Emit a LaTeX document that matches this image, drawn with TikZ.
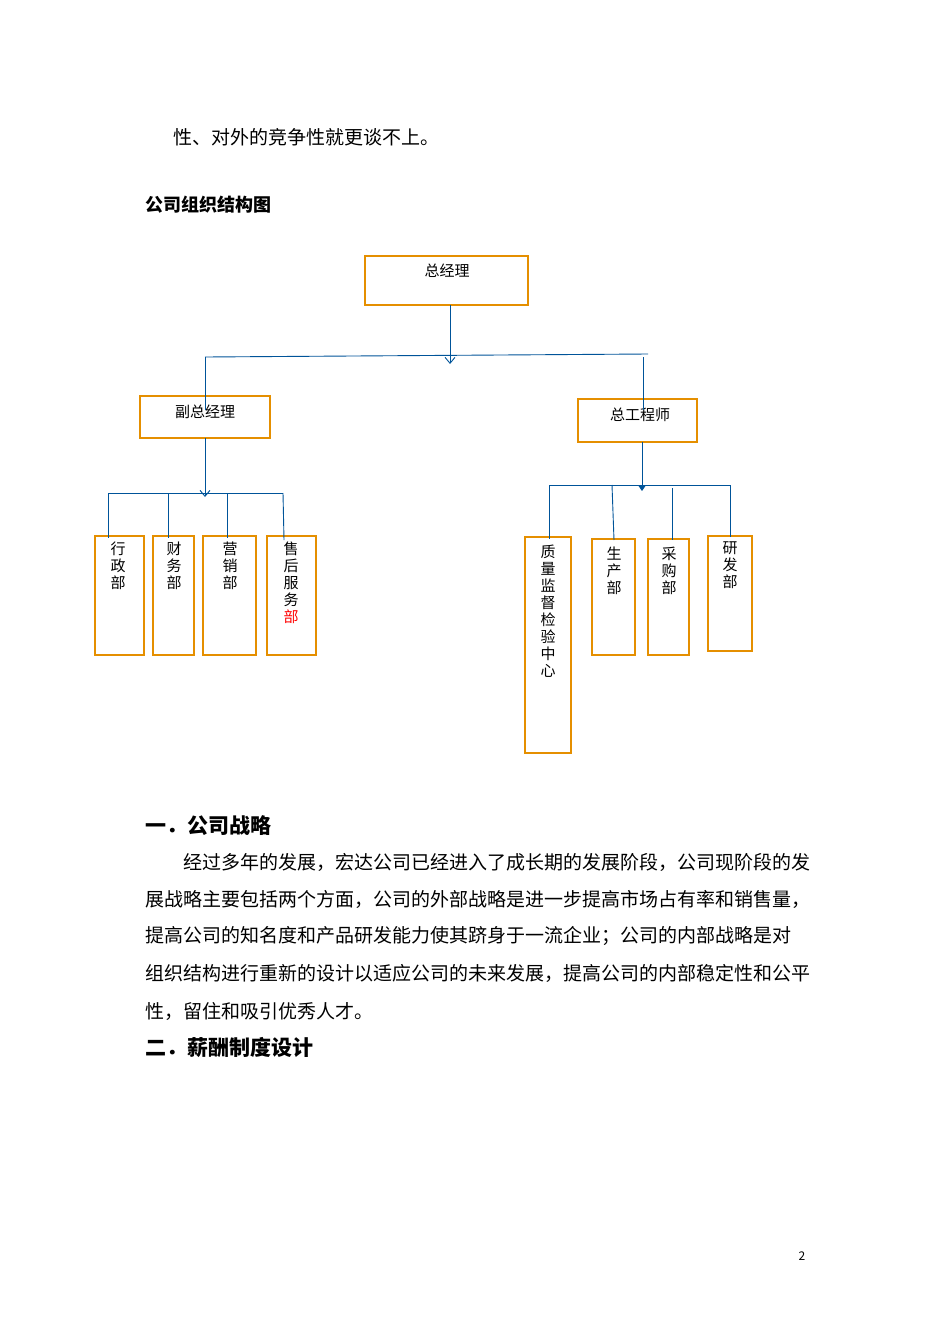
\documentclass[tikz,border=0pt]{standalone}
\usepackage{fontspec}
\setmainfont{Noto Sans CJK SC}
\usetikzlibrary{arrows.meta}
\tikzset{
  box/.style={draw=orange!75!yellow!90!black,line width=2.6pt},
  link/.style={draw=blue!45!cyan!60!black,line width=0.9pt},
  lbl/.style={font=\fontsize{15}{17}\selectfont,inner sep=0pt},
  vlbl/.style={lbl,anchor=north,align=center,font=\fontsize{15}{17}\selectfont},
  body/.style={anchor=west,inner sep=0pt,font=\fontsize{19}{21}\selectfont}
}
\def\Box#1#2#3#4#5{\draw[box] (#2,#3) rectangle (#4,#5) coordinate (#1);}
\begin{document}
\begin{tikzpicture}[x=1pt,y=-1pt]
\useasboundingbox[fill=white] (0,0) rectangle (950,1344);
% text above the chart
\node[body] (l0) at (173,137) {性、对外的竞争性就更谈不上。};
\node[body,font=\bfseries\fontsize{18}{20}\selectfont] (ttl) at (145,205) {公司组织结构图};
% boxes
\Box{gm}{365}{256}{528}{305}
\node[lbl] (gmt) at (447,271) {总经理};
\Box{vgm}{140}{396}{270}{438}
\node[lbl] (vgmt) at (205,412) {副总经理};
\Box{ce}{578}{399}{697}{442}
\node[lbl] (cet) at (640,415) {总工程师};
\Box{d1}{95}{536}{144}{655}
\Box{d2}{153}{536}{194}{655}
\Box{d3}{203}{536}{256}{655}
\Box{d4}{267}{536}{316}{655}
\Box{d5}{525}{537}{571}{753}
\Box{d6}{592}{539}{635}{655}
\Box{d7}{648}{539}{689}{655}
\Box{d8}{708}{536}{752}{651}
\node[vlbl] (t1) at (118,542) {行\\政\\部};
\node[vlbl] (t2) at (174,542) {财\\务\\部};
\node[vlbl] (t3) at (230,542) {营\\销\\部};
\node[vlbl] (t4) at (291,542) {售\\后\\服\\务\\\textcolor{red}{部}};
\node[vlbl] (t5) at (548,545) {质\\量\\监\\督\\检\\验\\中\\心};
\node[vlbl] (t6) at (614,547) {生\\产\\部};
\node[vlbl] (t7) at (669,547) {采\\购\\部};
\node[vlbl] (t8) at (730,542) {研\\发\\部};
% connectors
\coordinate (a0) at (450,305); \coordinate (a1) at (450,364);
\draw[link,-{Straight Barb[length=6pt,width=10pt]}] (a0) -- (a1);
\draw[link] (205,357) -- (648,354);
\draw[link] (205,357) -- (205,410);
\draw[link] (643,357) -- (643,410);
\coordinate (b0) at (205,438); \coordinate (b1) at (205,497);
\draw[link,-{Straight Barb[length=6pt,width=10pt]}] (b0) -- (b1);
\draw[link] (108,493) -- (283,493);
\foreach \x in {108,168,227} \draw[link] (\x,493) -- (\x,538);
\draw[link] (283,493) -- (284,540);
\coordinate (c0) at (642,442); \coordinate (c1) at (642,491);
\draw[link,-{Triangle[length=6pt,width=8pt]}] (c0) -- (c1);
\draw[link] (549,485) -- (730,485);
\draw[link] (549,485) -- (549,539);
\draw[link] (612,485) -- (614,540);
\draw[link] (672,488) -- (672,540);
\draw[link] (730,485) -- (730,537);
% text below the chart
\node[body,font=\bfseries\fontsize{21}{23}\selectfont] (h1) at (145,826) {一．公司战略};
\node[body] (p1) at (183,862) {经过多年的发展，宏达公司已经进入了成长期的发展阶段，公司现阶段的发};
\node[body] (p2) at (145,899) {展战略主要包括两个方面，公司的外部战略是进一步提高市场占有率和销售量，};
\node[body] (p3) at (145,936) {提高公司的知名度和产品研发能力使其跻身于一流企业；公司的内部战略是对};
\node[body] (p4) at (145,973) {组织结构进行重新的设计以适应公司的未来发展，提高公司的内部稳定性和公平};
\node[body] (p5) at (145,1011) {性，留住和吸引优秀人才。};
\node[body,font=\bfseries\fontsize{21}{23}\selectfont] (h2) at (145,1047) {二．薪酬制度设计};
\node[lbl,font=\fontsize{12}{14}\selectfont] (pg) at (802,1256) {2};
\end{tikzpicture}
\end{document}
